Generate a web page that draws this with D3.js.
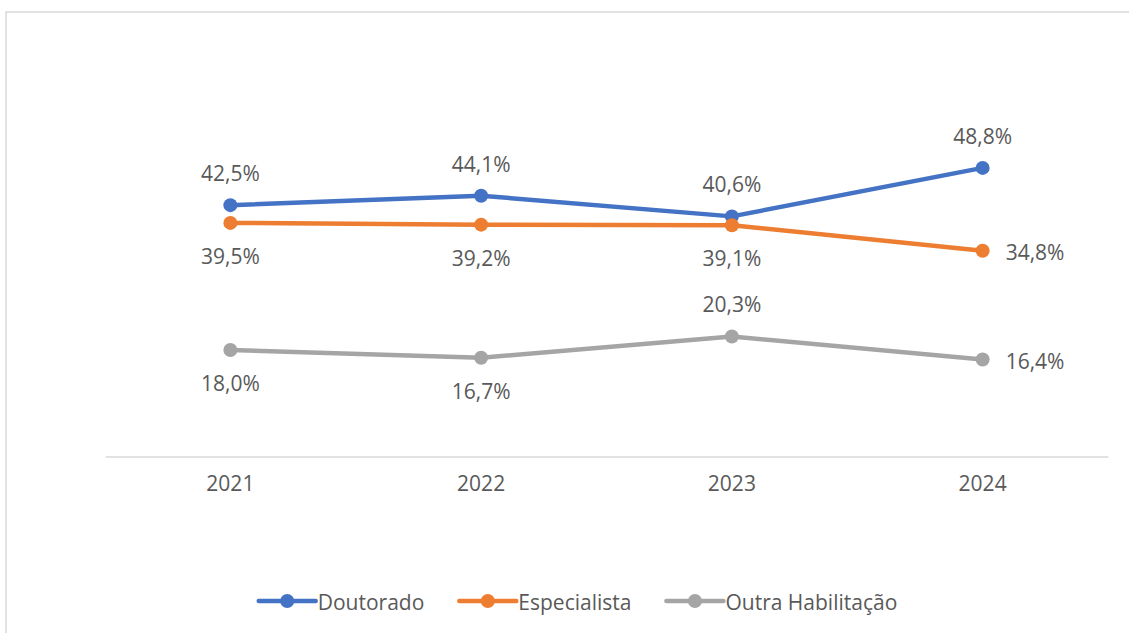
<!DOCTYPE html>
<meta charset="utf-8">
<script src="https://d3js.org/d3.v7.min.js"></script>
<style>
    body { margin: 0; background: white; }
    text { font-family: "Open Sans", sans-serif; fill: #595959; }
</style>
<body>
<div id="chart"></div>
</body>
<script>
    // data
    const years = ["2021", "2022", "2023", "2024"];
    const seriesNames = ["Doutorado", "Especialista", "Outra Habilitação"];
    const doutorado = [42.5, 44.1, 40.6, 48.8];
    const especialista = [39.5, 39.2, 39.1, 34.8];
    const outra = [18.0, 16.7, 20.3, 16.4];
    const colors = ["#4472C4", "#ED7D31", "#A5A5A5"];
    // where each data label sits relative to its point
    const labelPlace = [
        ["above", "above", "above", "above"],
        ["below", "below", "below", "right"],
        ["below", "below", "above", "right"]
    ];

    const W = 1129, H = 633;
    const FS = 21;

    const svg = d3.select("#chart").append("svg")
        .attr("width", W)
        .attr("height", H);

    // outer chart frame
    svg.append("rect")
        .attr("x", 6).attr("y", 12)
        .attr("width", W + 10).attr("height", H + 10)
        .attr("fill", "white")
        .attr("stroke", "#D9D9D9")
        .attr("stroke-width", 1.5);

    const x = d3.scaleBand()
        .domain(years)
        .range([105, 1108]);

    const y = d3.scaleLinear()
        .domain([0, 70])
        .range([456.5, 42.5]);

    // x axis
    const xAxis = svg.append("g")
        .attr("transform", "translate(0," + y(0) + ")")
        .call(d3.axisBottom(x).tickSize(0).tickPadding(20));
    xAxis.select(".domain").attr("stroke", "#D9D9D9").attr("stroke-width", 1.5);
    xAxis.selectAll("text")
        .attr("fill", "#595959")
        .style("font-size", FS + "px")
        .style("font-family", "'Open Sans', sans-serif");

    const allSeries = [doutorado, especialista, outra];
    const cx = d => x(d) + x.bandwidth() / 2;
    const line = d3.line()
        .x((d, i) => cx(years[i]))
        .y(d => y(d));

    const fmt = v => d3.format(".1f")(v).replace(".", ",") + "%";

    allSeries.forEach((vals, s) => {
        const g = svg.append("g");
        g.append("path")
            .datum(vals)
            .attr("d", line)
            .attr("fill", "none")
            .attr("stroke", colors[s])
            .attr("stroke-width", 4.5)
            .attr("stroke-linecap", "round")
            .attr("stroke-linejoin", "round");
        g.selectAll("circle")
            .data(vals)
            .enter()
            .append("circle")
            .attr("cx", (d, i) => cx(years[i]))
            .attr("cy", d => y(d))
            .attr("r", 7)
            .attr("fill", colors[s]);
        g.selectAll("text.lbl")
            .data(vals)
            .enter()
            .append("text")
            .attr("class", "lbl")
            .style("font-size", FS + "px")
            .attr("dominant-baseline", "central")
            .attr("text-anchor", (d, i) => labelPlace[s][i] === "right" ? "start" : "middle")
            .attr("x", (d, i) => labelPlace[s][i] === "right" ? cx(years[i]) + 23 : cx(years[i]))
            .attr("y", (d, i) => {
                const p = labelPlace[s][i];
                if (p === "above") return y(d) - 32;
                if (p === "below") return y(d) + 33;
                return y(d) + 1;
            })
            .text(d => fmt(d));
    });

    // legend
    const legendY = 601;
    const legend = svg.append("g");
    let lx = 0;
    seriesNames.forEach((name, s) => {
        const item = legend.append("g").attr("transform", "translate(" + lx + ",0)");
        item.append("line")
            .attr("x1", 0).attr("x2", 57)
            .attr("y1", legendY).attr("y2", legendY)
            .attr("stroke", colors[s])
            .attr("stroke-width", 4.5)
            .attr("stroke-linecap", "round");
        item.append("circle")
            .attr("cx", 28.5).attr("cy", legendY)
            .attr("r", 7)
            .attr("fill", colors[s]);
        const t = item.append("text")
            .attr("x", 59)
            .attr("y", legendY + 1)
            .attr("dominant-baseline", "central")
            .style("font-size", FS + "px")
            .text(name);
        lx += 59 + t.node().getComputedTextLength() + 35;
    });
    const legendW = lx - 35;
    legend.attr("transform", "translate(" + ((259 + 897) / 2 - legendW / 2) + ",0)");
</script>
</html>
